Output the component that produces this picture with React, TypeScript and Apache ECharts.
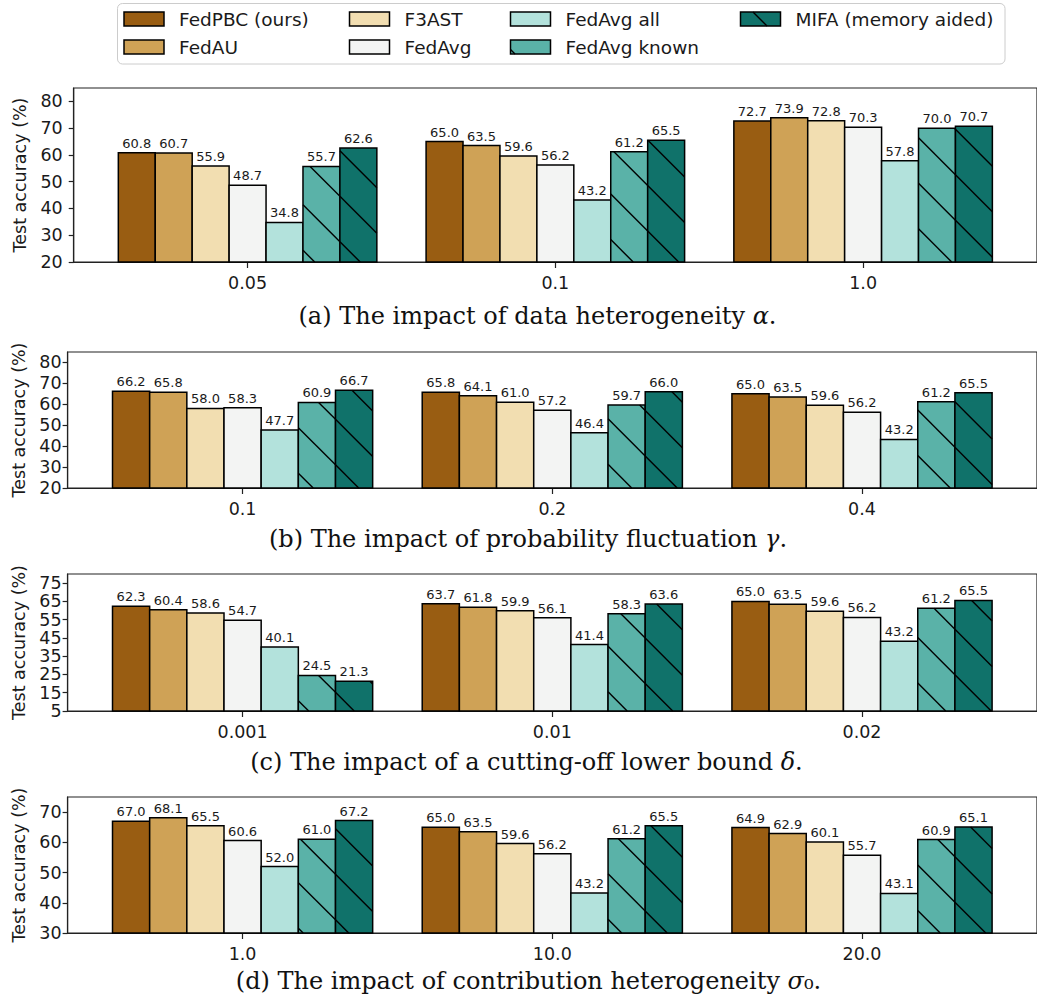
import React, { useEffect, useRef } from 'react';
import * as echarts from 'echarts';

// ---------- data ----------
const methods = ['FedPBC (ours)', 'FedAU', 'F3AST', 'FedAvg', 'FedAvg all', 'FedAvg known', 'MIFA (memory aided)'];

const alphaLabels = ['0.05', '0.1', '1.0'];
const alpha005 = [60.8, 60.7, 55.9, 48.7, 34.8, 55.7, 62.6];
const alpha01 = [65.0, 63.5, 59.6, 56.2, 43.2, 61.2, 65.5];
const alpha10 = [72.7, 73.9, 72.8, 70.3, 57.8, 70.0, 70.7];

const gammaLabels = ['0.1', '0.2', '0.4'];
const gamma01 = [66.2, 65.8, 58.0, 58.3, 47.7, 60.9, 66.7];
const gamma02 = [65.8, 64.1, 61.0, 57.2, 46.4, 59.7, 66.0];
const gamma04 = [65.0, 63.5, 59.6, 56.2, 43.2, 61.2, 65.5];

const deltaLabels = ['0.001', '0.01', '0.02'];
const delta0001 = [62.3, 60.4, 58.6, 54.7, 40.1, 24.5, 21.3];
const delta001 = [63.7, 61.8, 59.9, 56.1, 41.4, 58.3, 63.6];
const delta002 = [65.0, 63.5, 59.6, 56.2, 43.2, 61.2, 65.5];

const sigmaLabels = ['1.0', '10.0', '20.0'];
const sigma1 = [67.0, 68.1, 65.5, 60.6, 52.0, 61.0, 67.2];
const sigma10 = [65.0, 63.5, 59.6, 56.2, 43.2, 61.2, 65.5];
const sigma20 = [64.9, 62.9, 60.1, 55.7, 43.1, 60.9, 65.1];

const ticksA = [20, 30, 40, 50, 60, 70, 80];
const ticksB = [20, 30, 40, 50, 60, 70, 80];
const ticksC = [5, 15, 25, 35, 45, 55, 65, 75];
const ticksD = [30, 40, 50, 60, 70];

// ---------- styles ----------
const colors = ['#995d12', '#cfa256', '#f2deb1', '#f3f4f3', '#b3e2dc', '#5ab2a8', '#10726a'];
const hatched = [false, false, false, false, false, true, true];
const BW = 0.12;
const XMIN = -0.565;
const XMAX = 2.565;
const HATCH_S = 45.5;
const HATCH_C0 = 7.2;
const SANS = 'DejaVu Sans';
const SERIF = 'DejaVu Serif';
const TXT = '#1a1a1a';

const panels = [
  { labels: alphaLabels, groups: [alpha005, alpha01, alpha10], ymin: 20, ymax: 85, ticks: ticksA,
    left: 73.7, top: 88, width: 972.5, height: 174, yMargin: 11,
    cap: ['(a) The impact of data heterogeneity ', 'α', '.'], capX: 537.5, capY: 316, ylabX: 20 },
  { labels: gammaLabels, groups: [gamma01, gamma02, gamma04], ymin: 20, ymax: 85, ticks: ticksB,
    left: 67.6, top: 352, width: 978, height: 136, yMargin: 6,
    cap: ['(b) The impact of probability fluctuation ', 'γ', '.'], capX: 528, capY: 539, ylabX: 19 },
  { labels: deltaLabels, groups: [delta0001, delta001, delta002], ymin: 5, ymax: 80, ticks: ticksC,
    left: 67.6, top: 574, width: 978, height: 137, yMargin: 6,
    cap: ['(c) The impact of a cutting-off lower bound ', 'δ', '.'], capX: 526.5, capY: 762, ylabX: 19 },
  { labels: sigmaLabels, groups: [sigma1, sigma10, sigma20], ymin: 30, ymax: 75, ticks: ticksD,
    left: 67.6, top: 797, width: 978, height: 136, yMargin: 6,
    cap: ['(d) The impact of contribution heterogeneity ', 'σ', '₀.'], capX: 528.5, capY: 981, ylabX: 19 },
];

function hatchSegs(x0: number, y0: number, x1: number, y1: number, s: number, c0: number) {
  const segs: number[][] = [];
  const cmin = x0 - y1;
  const cmax = x1 - y0;
  const k = Math.ceil((cmin - c0) / s);
  for (let c = c0 + k * s; c <= cmax; c += s) {
    const xa = Math.max(x0, y0 + c);
    const xb = Math.min(x1, y1 + c);
    if (xb - xa > 0.5) segs.push([xa, xa - c, xb, xb - c]);
  }
  return segs;
}

function buildOption() {
  const grid: any[] = [];
  const xAxis: any[] = [];
  const yAxis: any[] = [];
  const series: any[] = [];
  const graphic: any[] = [];

  panels.forEach((p, pi) => {
    grid.push({ left: p.left, top: p.top, width: p.width, height: p.height, show: true,
      borderColor: '#222', borderWidth: 1.2, backgroundColor: 'transparent', containLabel: false });
    xAxis.push({
      type: 'value', gridIndex: pi, min: XMIN, max: XMAX,
      axisLine: { show: true, onZero: false, lineStyle: { color: '#222', width: 1.2 } },
      axisTick: { show: true, length: 6, lineStyle: { color: '#222', width: 1.2 }, customValues: [0, 1, 2] },
      axisLabel: { show: true, margin: 12, fontSize: 17.5, fontFamily: SANS, color: TXT,
        customValues: [0, 1, 2], formatter: (v: number) => p.labels[Math.round(v)] ?? '' },
      splitLine: { show: false },
    });
    yAxis.push({
      type: 'value', gridIndex: pi, min: p.ymin, max: p.ymax,
      axisLine: { show: true, onZero: false, lineStyle: { color: '#222', width: 1.2 } },
      axisTick: { show: true, length: 5, lineStyle: { color: '#222', width: 1.2 }, customValues: p.ticks },
      axisLabel: { show: true, margin: p.yMargin, fontSize: 17.5, fontFamily: SANS, color: TXT, customValues: p.ticks },
      splitLine: { show: false },
    });

    methods.forEach((name, m) => {
      series.push({
        type: 'custom', name, xAxisIndex: pi, yAxisIndex: pi, clip: false,
        data: p.groups.map((arr, gi) => [gi, arr[m]]),
        renderItem: (params: any, api: any) => {
          const g = api.value(0);
          const v = api.value(1);
          const xc = g + (m - 3) * BW;
          const tl = api.coord([xc - BW / 2, v]);
          const br = api.coord([xc + BW / 2, p.ymin]);
          const x0 = tl[0], y0 = tl[1], x1 = br[0], y1 = br[1];
          const children: any[] = [
            { type: 'rect', shape: { x: x0, y: y0, width: x1 - x0, height: y1 - y0 }, style: { fill: colors[m], stroke: 'none' } },
          ];
          if (hatched[m]) {
            hatchSegs(x0, y0, x1, y1, HATCH_S, HATCH_C0).forEach((s) => {
              children.push({ type: 'line', shape: { x1: s[0], y1: s[1], x2: s[2], y2: s[3] }, style: { stroke: '#000', lineWidth: 1.4 } });
            });
          }
          children.push({ type: 'rect', shape: { x: x0, y: y0, width: x1 - x0, height: y1 - y0 }, style: { fill: 'none', stroke: '#000', lineWidth: 1.5 } });
          children.push({ type: 'text', x: (x0 + x1) / 2, y: y0 - 3,
            style: { text: v.toFixed(1), align: 'center', verticalAlign: 'bottom', textAlign: 'center', textVerticalAlign: 'bottom',
              fontSize: 13, fontFamily: SANS, fill: TXT } });
          return { type: 'group', children };
        },
      });
    });

    // y label
    graphic.push({ type: 'text', x: p.ylabX, y: p.top + p.height / 2, rotation: Math.PI / 2,
      style: { text: 'Test accuracy (%)', align: 'center', verticalAlign: 'middle', textAlign: 'center', textVerticalAlign: 'middle',
        fontSize: 17.5, fontFamily: SANS, fill: TXT } });
    // caption
    graphic.push({ type: 'text', x: p.capX, y: p.capY,
      style: { text: `{n|${p.cap[0]}}{i|${p.cap[1]}}{n|${p.cap[2]}}`, align: 'center', verticalAlign: 'middle', textAlign: 'center', textVerticalAlign: 'middle',
        fontSize: 24, fontFamily: SERIF, fill: '#111',
        rich: { n: { fontSize: 24, fontFamily: SERIF, fill: '#111' }, i: { fontSize: 24, fontFamily: SERIF, fontStyle: 'italic', fill: '#111' } } } });
  });

  // legend
  graphic.push({ type: 'rect', shape: { x: 117.5, y: 3.5, width: 887.5, height: 60.5, r: 5 }, style: { fill: '#fff', stroke: '#cccccc', lineWidth: 1 } });
  const colX = [124, 349.5, 510.5, 740.5];
  const rowY = [19, 47];
  const legendC: (number | null)[] = [null, null, null, null, null, 461, 741];
  methods.forEach((name, m) => {
    const col = Math.floor(m / 2);
    const row = m % 2;
    const hx = colX[col];
    const hy = rowY[row] - 7;
    graphic.push({ type: 'rect', shape: { x: hx, y: hy, width: 40, height: 14 }, style: { fill: colors[m], stroke: 'none' } });
    const c = legendC[m];
    if (c !== null) {
      hatchSegs(hx, hy, hx + 40, hy + 14, 1000, c).forEach((s) => {
        graphic.push({ type: 'line', shape: { x1: s[0], y1: s[1], x2: s[2], y2: s[3] }, style: { stroke: '#000', lineWidth: 1.4 } });
      });
    }
    graphic.push({ type: 'rect', shape: { x: hx, y: hy, width: 40, height: 14 }, style: { fill: 'none', stroke: '#000', lineWidth: 1.5 } });
    graphic.push({ type: 'text', x: hx + 55, y: rowY[row],
      style: { text: name, align: 'left', verticalAlign: 'middle', textAlign: 'left', textVerticalAlign: 'middle',
        fontSize: 18.5, fontFamily: SANS, fill: TXT } });
  });

  return { animation: false, backgroundColor: '#fff', grid, xAxis, yAxis, series, graphic };
}

export default function App() {
  const ref = useRef<HTMLDivElement>(null);
  useEffect(() => {
    const chart = echarts.init(ref.current as HTMLDivElement, null, { renderer: 'svg' });
    chart.setOption(buildOption() as any);
    return () => chart.dispose();
  }, []);
  return <div ref={ref} style={{ position: 'absolute', left: 0, top: 0, width: 1037, height: 1003, background: '#fff' }} />;
}
